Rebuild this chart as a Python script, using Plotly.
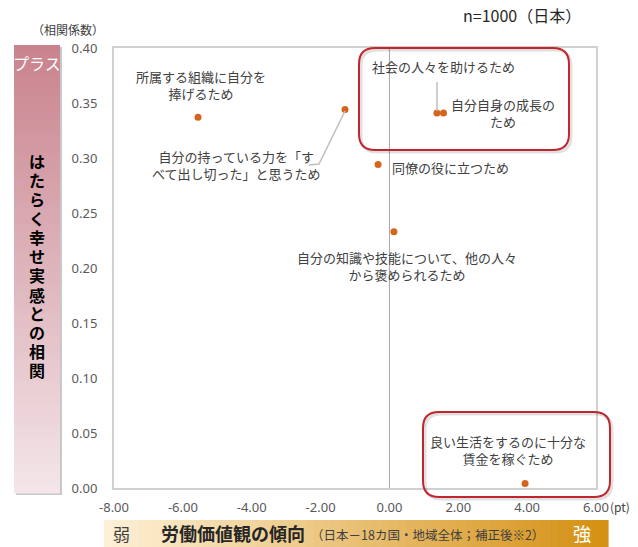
import plotly.graph_objects as go

# ---- data ----
labels = [
    "所属する組織に自分を<br>捧げるため",
    "自分の持っている力を「す<br>べて出し切った」と思うため",
    "社会の人々を助けるため",
    "自分自身の成長の<br>ため",
    "同僚の役に立つため",
    "自分の知識や技能について、他の人々<br>から褒められるため",
    "良い生活をするのに十分な<br>賃金を稼ぐため",
]
x_vals = [-5.56, -1.29, 1.38, 1.57, -0.33, 0.13, 3.94]
y_vals = [0.337, 0.344, 0.341, 0.341, 0.294, 0.233, 0.004]
y_ticks = [0.0, 0.05, 0.10, 0.15, 0.20, 0.25, 0.30, 0.35, 0.40]
x_ticks = [-8, -6, -4, -2, 0, 2, 4, 6]

W, H = 638, 547
ML, MR, MT, MB = 114, 42, 48, 59
PW, PH = W - ML - MR, H - MT - MB

def px(x):
    return (x - ML) / PW

def py(y):
    return (H - MB - y) / PH

FONT = "Noto Sans CJK JP, Noto Sans, sans-serif"
LFONT = "Liberation Sans, Noto Sans CJK JP, sans-serif"
TXT = "#404040"

fig = go.Figure()
fig.add_trace(go.Scatter(
    x=x_vals, y=y_vals, mode="markers",
    marker=dict(color="#d5641c", size=7),
    hoverinfo="text", text=labels, showlegend=False,
))

shapes = []
# zero line
shapes.append(dict(type="line", xref="x", yref="paper", x0=0, x1=0, y0=0, y1=1,
                   line=dict(color="#a6a6a6", width=1), layer="below"))

def lerp(c1, c2, t):
    return "rgb(%d,%d,%d)" % tuple(round(a + (b - a) * t) for a, b in zip(c1, c2))

# left gradient bar (top rose -> bottom pale pink)
top_c, bot_c = (201, 131, 142), (243, 229, 233)
bx0, bx1, by0, by1 = 14, 60, 45, 493
n = 60
shapes.append(dict(type="rect", xref="paper", yref="paper", x0=px(bx0 + 2), x1=px(bx1 + 2),
                   y0=py(by1 + 2), y1=py(by0 + 2), fillcolor="#c8c8c8", line=dict(width=0), layer="below"))
for i in range(n):
    ya = by0 + (by1 - by0) * i / n
    yb = by0 + (by1 - by0) * (i + 1) / n + 0.6
    shapes.append(dict(type="rect", xref="paper", yref="paper", x0=px(bx0), x1=px(bx1),
                       y0=py(yb), y1=py(ya), fillcolor=lerp(top_c, bot_c, i / (n - 1)),
                       line=dict(width=0), layer="below"))

# bottom gradient bar (left cream -> right orange)
l_c, r_c = (253, 240, 214), (212, 144, 18)
hx0, hx1, hy0, hy1 = 104, 608, 520, 547
for i in range(n):
    xa = hx0 + (hx1 - hx0) * i / n
    xb = hx0 + (hx1 - hx0) * (i + 1) / n + 0.6
    shapes.append(dict(type="rect", xref="paper", yref="paper", x0=px(xa), x1=px(xb),
                       y0=py(hy1), y1=py(hy0), fillcolor=lerp(l_c, r_c, i / (n - 1)),
                       line=dict(width=0), layer="below"))

# rounded red boxes
def rbox(x0, y0, x1, y1, r):
    X0, X1 = px(x0), px(x1)
    Y0, Y1 = py(y0), py(y1)
    rx, ry = r / PW, r / PH
    return (f"M {X0+rx},{Y0} L {X1-rx},{Y0} Q {X1},{Y0} {X1},{Y0-ry} "
            f"L {X1},{Y1+ry} Q {X1},{Y1} {X1-rx},{Y1} "
            f"L {X0+rx},{Y1} Q {X0},{Y1} {X0},{Y1+ry} "
            f"L {X0},{Y0-ry} Q {X0},{Y0} {X0+rx},{Y0} Z")

for (a, b, c, d) in [(359, 48, 569, 150), (423, 412, 610, 497)]:
    shapes.append(dict(type="path", xref="paper", yref="paper", path=rbox(a + 2, b + 2, c + 2, d + 2, 16),
                       line=dict(color="rgba(0,0,0,0.12)", width=3)))
    shapes.append(dict(type="path", xref="paper", yref="paper", path=rbox(a, b, c, d, 16),
                       line=dict(color="#c0262d", width=2)))

# leader lines
shapes.append(dict(type="path", xref="paper", yref="paper",
                   path=f"M {px(345)},{py(111)} L {px(319)},{py(164)} L {px(309)},{py(165)}",
                   line=dict(color="#bfbfbf", width=1.5)))
shapes.append(dict(type="line", xref="paper", yref="paper", x0=px(437), x1=px(437),
                   y0=py(82), y1=py(111), line=dict(color="#bfbfbf", width=1.5)))

ann = []
def T(text, x, y, size=13, color=TXT, xanchor="center", align="center", pad=1, family=FONT):
    ann.append(dict(text=text, x=px(x), y=py(y), xref="paper", yref="paper", showarrow=False,
                    xanchor=xanchor, yanchor="middle", align=align, borderpad=pad,
                    font=dict(family=family, size=size, color=color)))

# point labels
T(labels[0], 201, 86, family=LFONT)
T(labels[1], 236, 166, family=LFONT)
T(labels[2], 370, 67, xanchor="left", family=LFONT)
T(labels[3], 503, 114, family=LFONT)
T(labels[4], 390, 168, xanchor="left", family=LFONT)
T(labels[5], 407, 267, family=LFONT)
T(labels[6], 508, 451, family=LFONT)

# axis decorations
T("（相関係数）", 68, 30, size=12, color="#404040")
T("n=1000（日本）", 522, 15, size=16, color="#262626")
T("(pt)", 620, 506, size=12, color="#404040")
T("プラス", 37, 63, size=16, color="#ffffff")
vchars = list("はたらく幸せ実感との相関")
step = 19.0
start = 267 - step * (len(vchars) - 1) / 2
for i, ch in enumerate(vchars):
    T("<b>" + ch + "</b>", 37, start + i * step, size=16, color="#000000", pad=0, family=LFONT)
T("弱", 121, 533, size=17, color="#404040")
T("<b>労働価値観の傾向</b>", 159, 533, size=18, color="#262626", xanchor="left")
T("（日本－18カ国・地域全体；補正後※2）", 309, 534, size=12.5, color="#404040", xanchor="left")
T("強", 582, 533, size=18, color="#ffffff")

fig.update_layout(
    width=W, height=H, margin=dict(l=ML, r=MR, t=MT, b=MB, autoexpand=False),
    paper_bgcolor="white", plot_bgcolor="white",
    shapes=shapes, annotations=ann,
    xaxis=dict(range=[-8, 6], tickvals=x_ticks, ticktext=["%.2f" % v for v in x_ticks],
               showgrid=False, zeroline=False, showline=True, linecolor="#d0d0d0", linewidth=2,
               mirror=True, ticks="", tickfont=dict(family="Noto Sans, sans-serif", size=13, color="#595959"),
               ticklabelstandoff=6, fixedrange=True),
    yaxis=dict(range=[0, 0.4], tickvals=y_ticks, ticktext=["%.2f" % v for v in y_ticks],
               showgrid=False, zeroline=False, showline=True, linecolor="#d0d0d0", linewidth=2,
               mirror=True, ticks="", tickfont=dict(family="Noto Sans, sans-serif", size=13, color="#595959"),
               ticklabelstandoff=12, fixedrange=True),
    font=dict(family=FONT),
)

fig.write_html("out.html")
